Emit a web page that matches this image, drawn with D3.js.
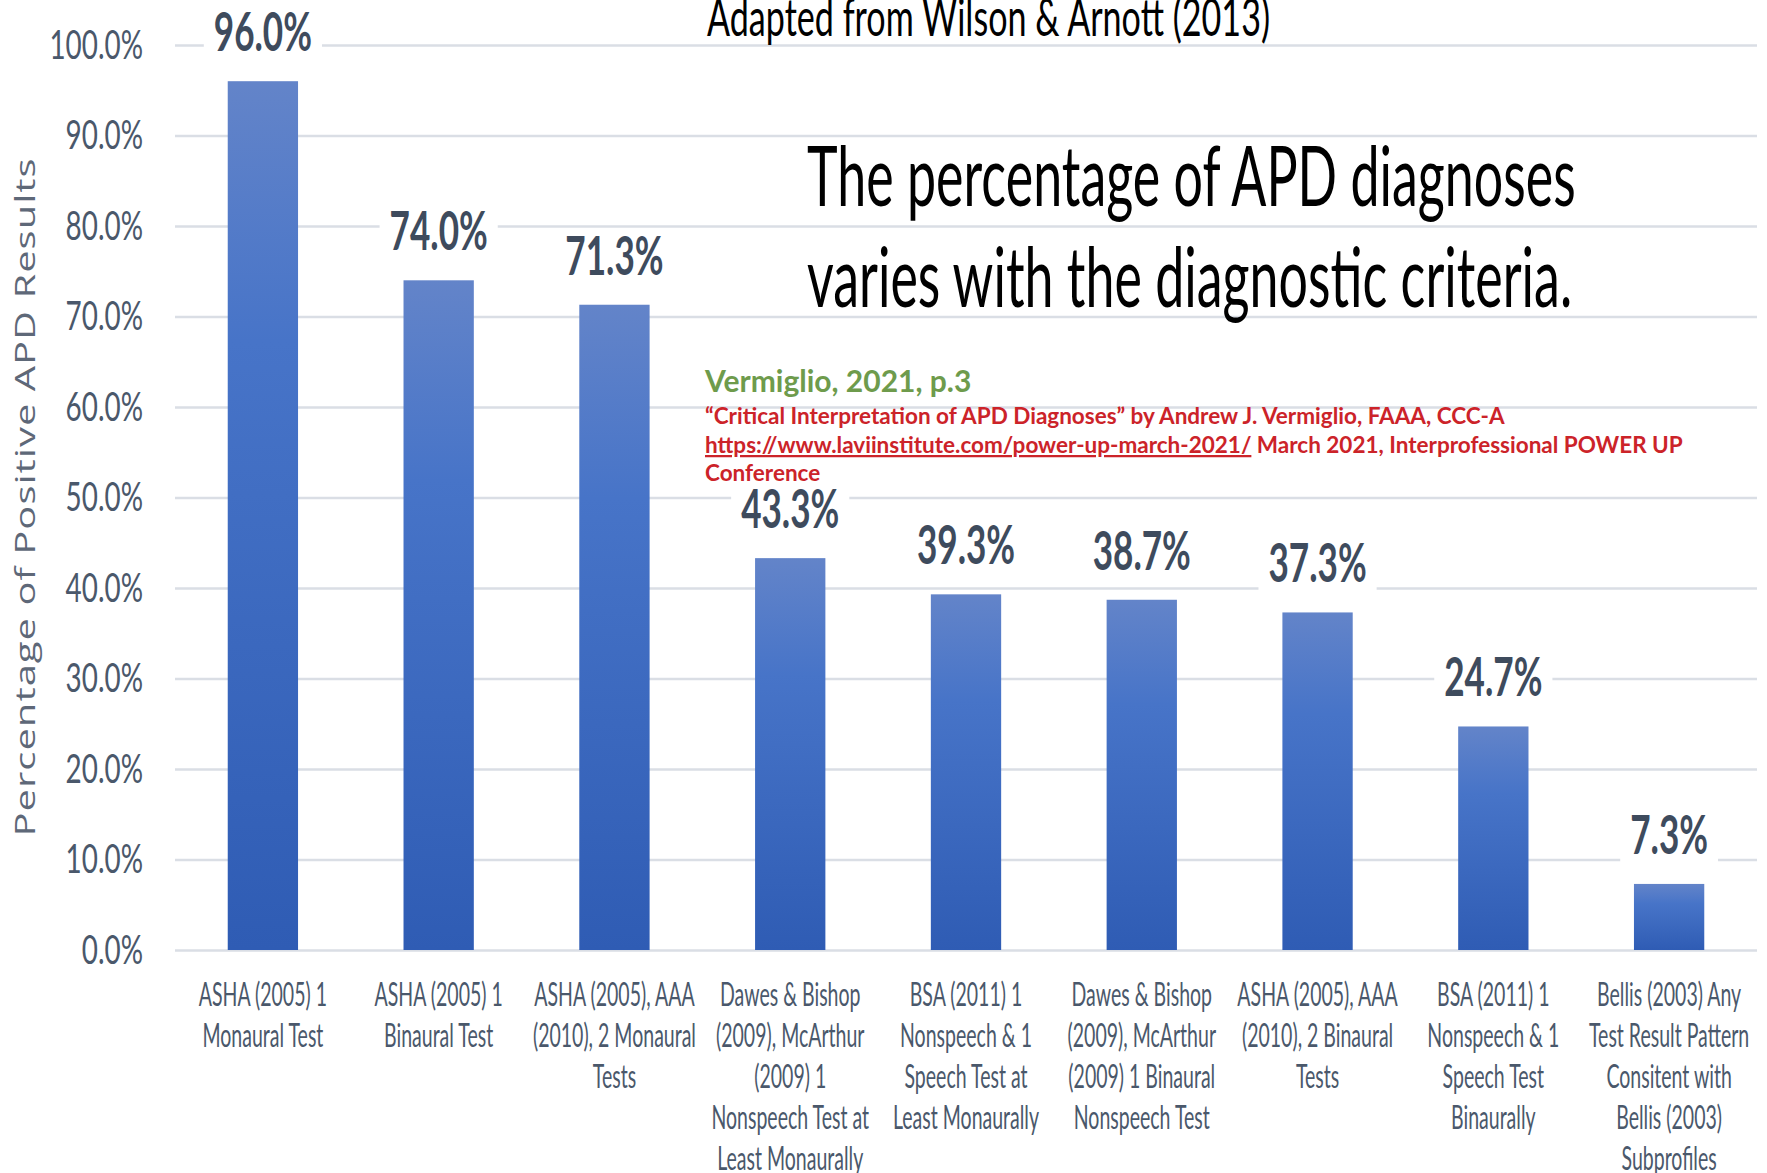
<!DOCTYPE html>
<html><head><meta charset="utf-8">
<script src="https://cdn.jsdelivr.net/npm/d3@7"></script>
<style>html,body{margin:0;padding:0;background:#fff;overflow:hidden}</style>
</head><body>
<svg id="chart" width="1767" height="1173"></svg>
<script>
const categories = [
  "ASHA (2005) 1\nMonaural Test",
  "ASHA (2005) 1\nBinaural Test",
  "ASHA (2005), AAA\n(2010), 2 Monaural\nTests",
  "Dawes & Bishop\n(2009), McArthur\n(2009) 1\nNonspeech Test at\nLeast Monaurally",
  "BSA (2011) 1\nNonspeech & 1\nSpeech Test at\nLeast Monaurally",
  "Dawes & Bishop\n(2009), McArthur\n(2009) 1 Binaural\nNonspeech Test",
  "ASHA (2005), AAA\n(2010), 2 Binaural\nTests",
  "BSA (2011) 1\nNonspeech & 1\nSpeech Test\nBinaurally",
  "Bellis (2003) Any\nTest Result Pattern\nConsitent with\nBellis (2003)\nSubprofiles"
];
const values = [0.960, 0.740, 0.713, 0.433, 0.393, 0.387, 0.373, 0.247, 0.073];
const yTicks = [0, 0.1, 0.2, 0.3, 0.4, 0.5, 0.6, 0.7, 0.8, 0.9, 1.0];
const yAxisTitle = "Percentage of Positive APD Results";
const sourceNote = "Adapted from Wilson & Arnott (2013)";
const headlineLines = ["The percentage of APD diagnoses", "varies with the diagnostic criteria."];
const citeHeading = "Vermiglio, 2021, p.3";
const citeLine1 = "\u201CCritical Interpretation of APD Diagnoses\u201D by Andrew J. Vermiglio, FAAA, CCC-A";
const citeUrl = "https://www.laviinstitute.com/power-up-march-2021/";
const citeLine2Rest = " March 2021, Interprofessional POWER UP";
const citeLine3 = "Conference";

const W = 1767, H = 1173;
const FONT = "Lato, 'Open Sans', sans-serif";
const svg = d3.select("#chart");

// helper: text horizontally condensed by sx
function sText(parent, x, y, sx) {
  return parent.append("g").attr("transform", `translate(${x},${y}) scale(${sx},1)`)
    .append("text").attr("x", 0).attr("y", 0);
}

const defs = svg.append("defs");
const grad = defs.append("linearGradient").attr("id", "barGrad")
  .attr("x1", 0).attr("y1", 0).attr("x2", 0).attr("y2", 1);
grad.append("stop").attr("offset", "0%").attr("stop-color", "#6384C9");
grad.append("stop").attr("offset", "30%").attr("stop-color", "#4774C8");
grad.append("stop").attr("offset", "100%").attr("stop-color", "#2F5CB4");

const x = d3.scaleBand().domain(d3.range(categories.length))
  .range([175, 1757]).paddingInner(0.6).paddingOuter(0.3);
const y = d3.scaleLinear().domain([0, 1]).range([950, 45]);

// grid + tick labels
const TSX = 0.68, TPAD = 32;
const yAxis = d3.axisLeft(y).tickValues(yTicks)
  .tickSize(-(1757 - 175)).tickPadding(TPAD)
  .tickFormat(d3.format(".1%"));
const gy = svg.append("g").attr("transform", `translate(175,0)`).call(yAxis);
gy.select(".domain").remove();
gy.selectAll(".tick line").attr("stroke", "#DADEE5").attr("stroke-width", 2.5);
gy.selectAll(".tick text").attr("fill", "#4A586B")
  .attr("transform", `scale(${TSX},1)`).attr("x", -TPAD / TSX)
  .style("font-family", FONT).style("font-size", "41px");

// bars
svg.append("g").selectAll("rect").data(values).join("rect")
  .attr("x", (d, i) => x(i)).attr("width", x.bandwidth())
  .attr("y", d => y(d)).attr("height", d => y(0) - y(d))
  .attr("fill", "url(#barGrad)");

// data labels with white boxes
const fmt = d3.format(".1%");
const LSX = 0.65, LSIZE = 54;
values.forEach((v, i) => {
  const baseY = y(v) - 30;
  const t = sText(svg, x(i) + x.bandwidth() / 2, baseY, LSX)
    .attr("text-anchor", "middle")
    .style("font-family", FONT).style("font-weight", "700").style("font-size", LSIZE + "px")
    .attr("fill", "#3E4B5D").text(fmt(v));
  const bb = t.node().getBBox();
  const top = -LSIZE * 0.8;
  d3.select(t.node().parentNode).insert("rect", "text")
    .attr("x", bb.x - 10 / LSX).attr("y", top)
    .attr("width", bb.width + 20 / LSX).attr("height", -top + 8)
    .attr("fill", "#fff");
});

// x labels
const XSX = 0.61;
categories.forEach((c, i) => {
  const t = sText(svg, x(i) + x.bandwidth() / 2, 1006, XSX)
    .attr("text-anchor", "middle")
    .style("font-family", FONT).style("font-size", "32px")
    .attr("fill", "#4A586B");
  c.split("\n").forEach((line, j) => {
    t.append("tspan").attr("x", 0).attr("y", j * 41).text(line);
  });
});

// y axis title
svg.append("text")
  .attr("transform", `translate(35,497) rotate(-90) scale(1,0.7)`)
  .attr("text-anchor", "middle")
  .style("font-family", "'Open Sans', sans-serif").style("font-size", "40px")
  .style("letter-spacing", "1px")
  .attr("fill", "#5E6878")
  .text(yAxisTitle);

// source note at top
sText(svg, 707, 36, 0.656)
  .style("font-family", FONT).style("font-size", "52px")
  .attr("fill", "#000").text(sourceNote);

// headline
headlineLines.forEach((line, i) => {
  sText(svg, 807, 206 + i * 101, 0.626)
    .style("font-family", FONT).style("font-size", "83px")
    .attr("fill", "#000").text(line);
});

// citation
svg.append("text").attr("x", 705).attr("y", 392)
  .style("font-family", FONT).style("font-weight", "700").style("font-size", "30px")
  .attr("fill", "#6E9B4C").text(citeHeading);
const cite = svg.append("g")
  .style("font-family", FONT).style("font-weight", "700").style("font-size", "22.5px")
  .attr("fill", "#CC2329");
cite.append("text").attr("x", 705).attr("y", 424).text(citeLine1);
const l2 = cite.append("text").attr("x", 705).attr("y", 453);
l2.append("tspan").style("text-decoration", "underline").text(citeUrl);
l2.append("tspan").text(citeLine2Rest);
cite.append("text").attr("x", 705).attr("y", 481).text(citeLine3);
</script>
</body></html>
